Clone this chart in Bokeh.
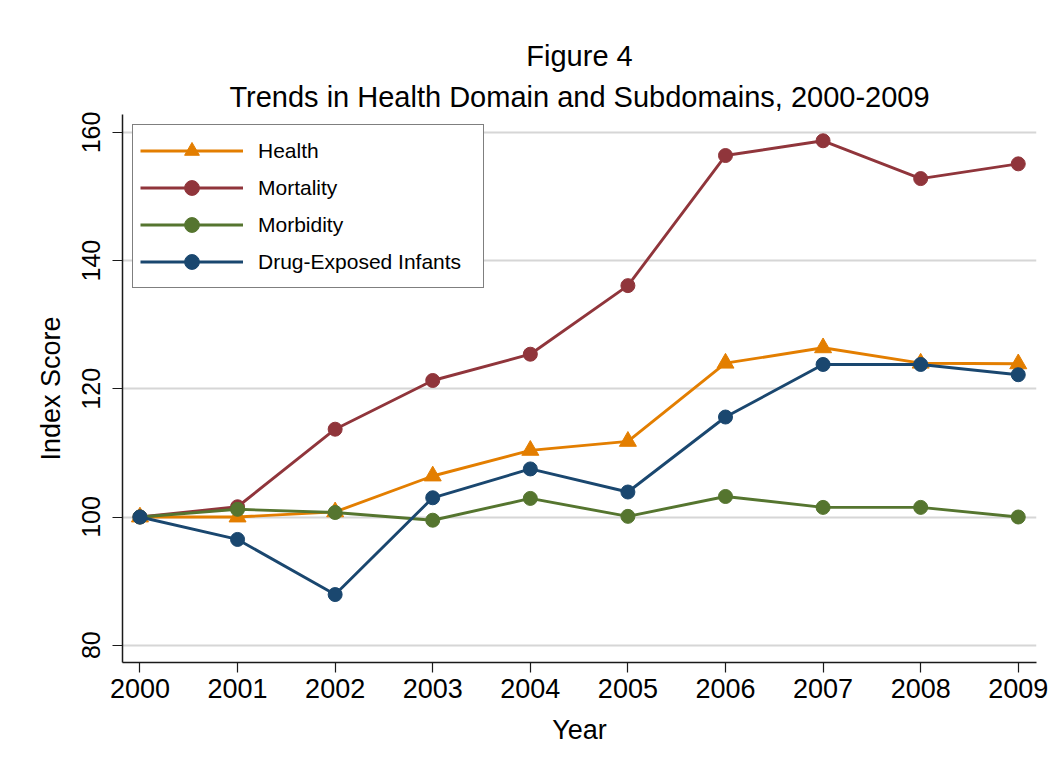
from bokeh.plotting import figure
from bokeh.models import Title, Legend, LegendItem, FixedTicker, Range1d
from bokeh.embed import file_html
from bokeh.resources import INLINE

# Index scores (2000 = 100)
years = [2000, 2001, 2002, 2003, 2004, 2005, 2006, 2007, 2008, 2009]
health = [100.0, 100.0, 100.8, 106.4, 110.4, 111.8, 124.0, 126.4, 124.0, 123.9]
mortality = [100.0, 101.6, 113.7, 121.3, 125.4, 136.1, 156.4, 158.7, 152.8, 155.1]
morbidity = [100.0, 101.2, 100.7, 99.5, 102.9, 100.1, 103.2, 101.5, 101.5, 100.0]
drug_exposed = [100.0, 96.5, 87.9, 103.0, 107.5, 103.9, 115.6, 123.8, 123.8, 122.2]

y_ticks = [80, 100, 120, 140, 160]

FONT = "Liberation Sans"

p = figure(
    width=1049, height=768,
    x_range=Range1d(1999.821, 2009.187),
    y_range=Range1d(77.3, 162.8),
    output_backend="svg", toolbar_location=None,
    min_border_left=122, min_border_right=13,
    min_border_top=114, min_border_bottom=106,
    background_fill_color="white", border_fill_color="white",
)
p.outline_line_color = None

p.add_layout(Title(text="Trends in Health Domain and Subdomains, 2000-2009",
                   align="center", text_font=FONT, text_font_size="29px",
                   text_font_style="normal", text_color="black",
                   standoff=4), "above")
p.add_layout(Title(text="Figure 4", align="center", text_font=FONT,
                   text_font_size="29px", text_font_style="normal",
                   text_color="black", standoff=9), "above")

# axes
p.xaxis.ticker = FixedTicker(ticks=years)
p.yaxis.ticker = FixedTicker(ticks=y_ticks)
for ax in (p.xaxis[0], p.yaxis[0]):
    ax.axis_line_color = "#1a1a1a"
    ax.axis_line_width = 1.5
    ax.major_tick_line_color = "#1a1a1a"
    ax.major_tick_line_width = 1.2
    ax.major_tick_out = 10
    ax.major_tick_in = 0
    ax.minor_tick_line_color = None
    ax.major_label_text_font = FONT
    ax.major_label_text_color = "black"
    ax.axis_label_text_font = FONT
    ax.axis_label_text_font_style = "normal"
    ax.axis_label_text_color = "black"
    ax.axis_label_text_font_size = "27px"

p.xaxis.axis_label = "Year"
p.xaxis.major_label_text_font_size = "27px"
p.xaxis.major_label_standoff = 6
p.xaxis.axis_label_standoff = 14

p.yaxis.axis_label = "Index Score"
p.yaxis.major_label_text_font_size = "25px"
p.yaxis.major_label_orientation = "vertical"
p.yaxis.major_label_standoff = 12
p.yaxis.axis_label_standoff = 14

p.xgrid.grid_line_color = None
p.ygrid.grid_line_color = "#d6d6d6"
p.ygrid.grid_line_width = 2

series = [
    ("Health", health, "#e37e00", "triangle", 17),
    ("Mortality", mortality, "#90353b", "circle", 14),
    ("Morbidity", morbidity, "#55752f", "circle", 14),
    ("Drug-Exposed Infants", drug_exposed, "#1a476f", "circle", 14),
]

items = []
for name, vals, color, marker, size in series:
    ln = p.line(years, vals, line_color=color, line_width=2.9)
    sc = p.scatter(years, vals, marker=marker, size=size,
                   fill_color=color, line_color=color)
    items.append(LegendItem(label=name, renderers=[ln, sc]))

legend = Legend(
    items=items, location="top_left", margin=10, padding=7, spacing=0,
    glyph_width=103, glyph_height=37, label_height=37, label_width=218,
    label_standoff=15, label_text_font=FONT, label_text_font_size="21px",
    label_text_color="black", border_line_color="black",
    border_line_width=1, background_fill_color="white",
    background_fill_alpha=1.0,
)
p.add_layout(legend, "center")

open("out.html", "w").write(file_html(p, INLINE))
